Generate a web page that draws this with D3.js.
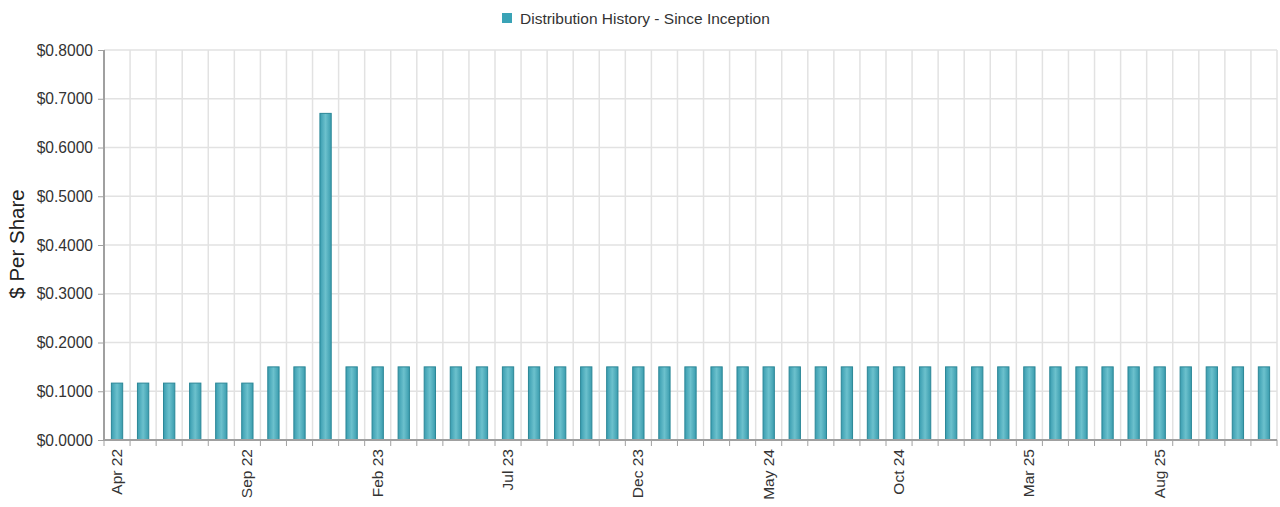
<!DOCTYPE html>
<html><head><meta charset="utf-8">
<script src="https://cdn.jsdelivr.net/npm/d3@7/dist/d3.min.js"></script>
<style>body{margin:0;background:#fff;font-family:"Liberation Sans",Arial,sans-serif;}</style>
</head><body><svg id="c" width="1280" height="507"></svg>
<script>
const months = ["Apr 22","May 22","Jun 22","Jul 22","Aug 22","Sep 22","Oct 22","Nov 22","Dec 22",
"Jan 23","Feb 23","Mar 23","Apr 23","May 23","Jun 23","Jul 23","Aug 23","Sep 23","Oct 23","Nov 23","Dec 23",
"Jan 24","Feb 24","Mar 24","Apr 24","May 24","Jun 24","Jul 24","Aug 24","Sep 24","Oct 24","Nov 24","Dec 24",
"Jan 25","Feb 25","Mar 25","Apr 25","May 25","Jun 25","Jul 25","Aug 25","Sep 25","Oct 25","Nov 25","Dec 25"];
const values = [0.1167,0.1167,0.1167,0.1167,0.1167,0.1167,0.15,0.15,0.67,
0.15,0.15,0.15,0.15,0.15,0.15,0.15,0.15,0.15,0.15,0.15,0.15,
0.15,0.15,0.15,0.15,0.15,0.15,0.15,0.15,0.15,0.15,0.15,0.15,
0.15,0.15,0.15,0.15,0.15,0.15,0.15,0.15,0.15,0.15,0.15,0.15];
const shownLabels = ["Apr 22","Sep 22","Feb 23","Jul 23","Dec 23","May 24","Oct 24","Mar 25","Aug 25"];
const yTicks = [0,0.1,0.2,0.3,0.4,0.5,0.6,0.7,0.8];
const seriesName = "Distribution History - Since Inception";

const svg = d3.select("#c");
const L = 104, R = 1277, T = 50, B = 440;
const x = d3.scaleBand().domain(months).range([L, R]).padding(0);
const y = d3.scaleLinear().domain([0, 0.8]).range([B, T]);

const defs = svg.append("defs");
const g = defs.append("linearGradient").attr("id","bg").attr("x1","0").attr("x2","1").attr("y1","0").attr("y2","0");
g.append("stop").attr("offset","0%").attr("stop-color","#3a9db0");
g.append("stop").attr("offset","50%").attr("stop-color","#6cc1cd");
g.append("stop").attr("offset","100%").attr("stop-color","#3a9cae");

// grid
svg.append("g").selectAll("line.h").data(yTicks).join("line")
  .attr("x1", L).attr("x2", R).attr("y1", d=>y(d)).attr("y2", d=>y(d))
  .attr("stroke","#e2e2e2").attr("stroke-width",1.5);
const bounds = months.map(m => x(m)).concat([R]);
svg.append("g").selectAll("line.v").data(bounds.slice(1)).join("line")
  .attr("x1", d=>d).attr("x2", d=>d).attr("y1", T).attr("y2", B)
  .attr("stroke","#e2e2e2").attr("stroke-width",1.5);

// bars
const bw = 11.3;
svg.append("g").selectAll("rect").data(values).join("rect")
  .attr("x", (d,i)=> x(months[i]) + x.bandwidth()/2 - bw/2)
  .attr("y", d=>y(d))
  .attr("width", bw)
  .attr("height", d=>B - y(d))
  .attr("fill","url(#bg)")
  .attr("stroke","#2b8797").attr("stroke-width",1);

// y axis
const ya = svg.append("g").attr("transform",`translate(${L},0)`)
  .call(d3.axisLeft(y).tickValues(yTicks).tickFormat(d=>"$"+d.toFixed(4)).tickSize(6).tickPadding(5));
ya.select(".domain").attr("stroke","#a0a0a0").attr("stroke-width",2).attr("d",`M0,${T}V${B}`);
ya.selectAll(".tick line").attr("stroke","#a0a0a0");
ya.selectAll("text").attr("fill","#333").style("font-size","15.6px").style("font-family","'Liberation Sans',Arial,sans-serif");

// x axis
const xa = svg.append("g").attr("transform",`translate(0,${B})`);
xa.append("line").attr("x1",L).attr("x2",R).attr("stroke","#a0a0a0").attr("stroke-width",2);
xa.selectAll("line.t").data(bounds).join("line")
  .attr("x1",d=>d).attr("x2",d=>d).attr("y1",0).attr("y2",6).attr("stroke","#a0a0a0");
xa.selectAll("text").data(shownLabels).join("text")
  .attr("transform", d=>`translate(${x(d)+x.bandwidth()/2+5},9) rotate(-90)`)
  .attr("text-anchor","end").attr("fill","#333")
  .style("font-size","15.5px").text(d=>d);

// y title
svg.append("text").attr("transform","translate(24,244) rotate(-90)")
  .attr("text-anchor","middle").attr("fill","#222").style("font-size","20.5px").text("$ Per Share");

// legend
svg.append("rect").attr("x",502).attr("y",13).attr("width",10).attr("height",10).attr("fill","#3aa3b6");
svg.append("text").attr("x",520).attr("y",23.5).attr("fill","#333").style("font-size","15.5px").text(seriesName);
</script></body></html>
